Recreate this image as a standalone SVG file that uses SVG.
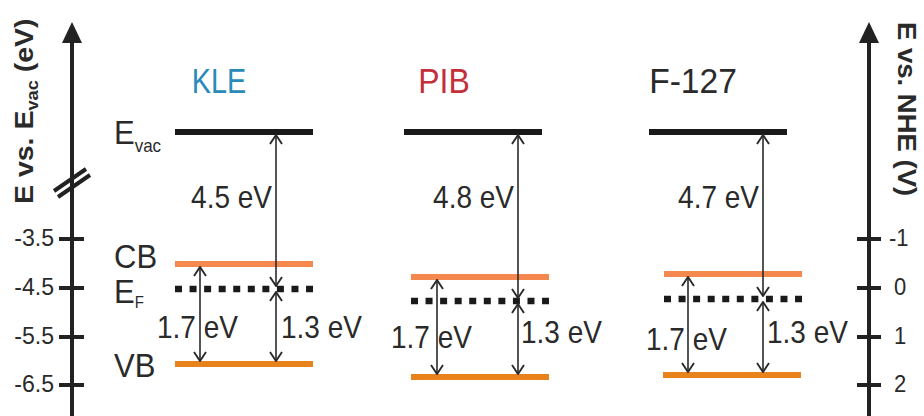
<svg xmlns="http://www.w3.org/2000/svg" width="924" height="416" viewBox="0 0 924 416">
<style>
text{font-family:"Liberation Sans",Arial,sans-serif;fill:#2a2a2a}
.t{font-size:22px}
.big{font-size:31px}
.ev{font-size:28px}
.ttl{font-size:32px;text-anchor:middle}
.ax{font-size:25px;font-weight:bold}
.axl{stroke:#222;stroke-width:4;fill:none}
.evac{stroke:#1a1a1a;stroke-width:6}
.cb{stroke:#f4884e;stroke-width:6}
.vb{stroke:#e8831c;stroke-width:6}
.ef{stroke:#1a1a1a;stroke-width:6.5;stroke-dasharray:7 7.56}
.arr{stroke:#2a2a2a;stroke-width:1.6;fill:none;marker-start:url(#ah);marker-end:url(#ah)}
</style>
<defs>
<marker id="ah" viewBox="0 0 11 14" refX="10" refY="7" markerWidth="11" markerHeight="14" markerUnits="userSpaceOnUse" orient="auto-start-reverse">
<path d="M1,1 L10,7 L1,13" fill="none" stroke="#2a2a2a" stroke-width="1.9"/>
</marker>
</defs>
<rect width="924" height="416" fill="#fff"/>
<g id="left-axis">
<line class="axl" x1="72" y1="40" x2="72" y2="416"/>
<polygon points="72,22 62,43 82,43" fill="#222"/>
<line class="axl" x1="54" y1="191" x2="86" y2="169" stroke-width="3.5"/>
<line class="axl" x1="58" y1="197" x2="90" y2="175" stroke-width="3.5"/>
<line class="axl" x1="59" y1="239" x2="84" y2="239" stroke-width="4.5"/>
<line class="axl" x1="59" y1="288" x2="84" y2="288" stroke-width="4.5"/>
<line class="axl" x1="59" y1="337" x2="84" y2="337" stroke-width="4.5"/>
<line class="axl" x1="59" y1="385" x2="84" y2="385" stroke-width="4.5"/>
<text class="t" transform="translate(54,246) scale(1.05,1.08)" text-anchor="end">-3.5</text>
<text class="t" transform="translate(54,295) scale(1.05,1.08)" text-anchor="end">-4.5</text>
<text class="t" transform="translate(54,344) scale(1.05,1.08)" text-anchor="end">-5.5</text>
<text class="t" transform="translate(54,392) scale(1.05,1.08)" text-anchor="end">-6.5</text>
<text class="ax" transform="translate(33,204) rotate(-90) scale(1.14,1)">E vs. E<tspan font-size="16" dy="5">vac</tspan><tspan dy="-5"> (eV)</tspan></text>
</g>
<g id="right-axis">
<line class="axl" x1="869" y1="40" x2="869" y2="416"/>
<polygon points="869,22 859,43 879,43" fill="#222"/>
<line class="axl" x1="857" y1="239" x2="881" y2="239" stroke-width="4.5"/>
<line class="axl" x1="857" y1="288" x2="881" y2="288" stroke-width="4.5"/>
<line class="axl" x1="857" y1="337" x2="881" y2="337" stroke-width="4.5"/>
<line class="axl" x1="857" y1="385" x2="881" y2="385" stroke-width="4.5"/>
<text class="t" transform="translate(889,246) scale(1,1.08)">-1</text>
<text class="t" transform="translate(894,295) scale(1,1.08)">0</text>
<text class="t" transform="translate(894,344) scale(1,1.08)">1</text>
<text class="t" transform="translate(894,392) scale(1,1.08)">2</text>
<text class="ax" transform="translate(898,22) rotate(90) scale(1.1,1)">E vs. NHE (V)</text>
</g>
<g id="level-labels">
<text class="big" transform="translate(114,144) scale(1,1.1)">E<tspan font-size="17" dy="7">vac</tspan></text>
<text class="big" transform="translate(114,268) scale(1,1.08)">CB</text>
<text class="big" transform="translate(114,303) scale(1,1.08)">E<tspan font-size="15" dy="5">F</tspan></text>
<text class="big" transform="translate(114,377) scale(1,1.08)">VB</text>
</g>
<g id="KLE">
<text class="ttl" transform="translate(219,93) scale(0.9,1.1)" style="fill:#2a8ab8">KLE</text>
<line class="evac" x1="175" y1="132" x2="313" y2="132"/>
<line class="cb" x1="175" y1="264" x2="313" y2="264"/>
<line class="ef" x1="175" y1="289" x2="313" y2="289"/>
<line class="vb" x1="175" y1="364" x2="313" y2="364"/>
</g>
<g id="PIB">
<text class="ttl" transform="translate(444,93) scale(1,1.1)" style="fill:#c4303a">PIB</text>
<line class="evac" x1="404" y1="132" x2="542" y2="132"/>
<line class="cb" x1="411" y1="277" x2="549" y2="277"/>
<line class="ef" x1="411" y1="301" x2="549" y2="301"/>
<line class="vb" x1="411" y1="377" x2="549" y2="377"/>
</g>
<g id="F127">
<text class="ttl" transform="translate(693,93) scale(1.05,1.1)">F-127</text>
<line class="evac" x1="649" y1="132" x2="787" y2="132"/>
<line class="cb" x1="664" y1="274" x2="802" y2="274"/>
<line class="ef" x1="664" y1="299" x2="802" y2="299"/>
<line class="vb" x1="663" y1="375" x2="801" y2="375"/>
</g>
<g id="connectors">
<line class="arr" x1="276" y1="135" x2="276" y2="286"/>
<line class="arr" x1="200" y1="267" x2="200" y2="361"/>
<line class="arr" x1="276" y1="292" x2="276" y2="361"/>
<line class="arr" x1="518" y1="135" x2="518" y2="298"/>
<line class="arr" x1="437" y1="280" x2="437" y2="374"/>
<line class="arr" x1="518" y1="304" x2="518" y2="374"/>
<line class="arr" x1="763" y1="135" x2="763" y2="296"/>
<line class="arr" x1="688" y1="277" x2="688" y2="372"/>
<line class="arr" x1="763" y1="302" x2="763" y2="372"/>
<text class="ev" transform="translate(272,208) scale(1,1.12)" text-anchor="end">4.5 eV</text>
<text class="ev" transform="translate(157,338) scale(1,1.12)">1.7 eV</text>
<text class="ev" transform="translate(281,338) scale(1,1.12)">1.3 eV</text>
<text class="ev" transform="translate(514,208) scale(1,1.12)" text-anchor="end">4.8 eV</text>
<text class="ev" transform="translate(391,348) scale(1,1.12)">1.7 eV</text>
<text class="ev" transform="translate(521,343) scale(1,1.12)">1.3 eV</text>
<text class="ev" transform="translate(759,208) scale(1,1.12)" text-anchor="end">4.7 eV</text>
<text class="ev" transform="translate(646,350) scale(1,1.12)">1.7 eV</text>
<text class="ev" transform="translate(767,343) scale(1,1.12)">1.3 eV</text>
</g>
</svg>
